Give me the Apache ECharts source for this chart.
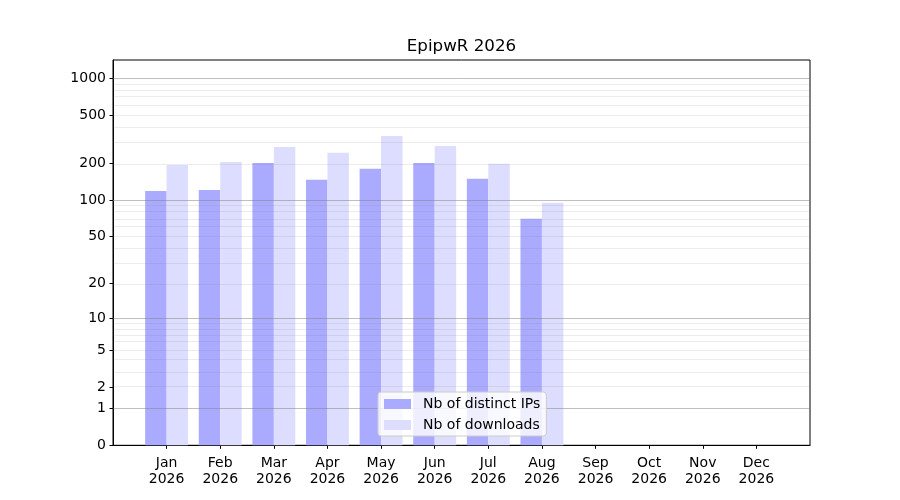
<!DOCTYPE html>
<html>
<head>
<meta charset="utf-8">
<script src="https://cdn.jsdelivr.net/npm/echarts@6/dist/echarts.min.js"></script>
<style>html,body{margin:0;padding:0;background:#fff}#c{width:900px;height:500px}</style>
</head>
<body>
<div id="c"></div>
<script>
const months = ['Jan','Feb','Mar','Apr','May','Jun','Jul','Aug','Sep','Oct','Nov','Dec'];
const year = '2026';
const distinctIPs = [119, 121, 202, 147, 181, 202, 150, 70, null, null, null, null];
const downloads = [195, 206, 274, 245, 337, 279, 199, 95, null, null, null, null];
const yTickValues = [0, 1, 2, 5, 10, 20, 50, 100, 200, 500, 1000];
const majorGrid = [1, 10, 100, 1000];
const minorGrid = [2,3,4,5,6,7,8,9,20,30,40,50,60,70,80,90,200,300,400,500,600,700,800,900];

const tf = v => v == null ? null : Math.log10(1 + v);
const cats = [''].concat(months.map(m => m + '\n' + year)).concat(['']);
const pad = arr => [null].concat(arr.map(tf)).concat([null]);
const FONT = 'DejaVu Sans';

const gridLines = majorGrid.map(v => ({yAxis: tf(v), lineStyle: {color: 'rgba(128,128,128,0.5)', width: 1, type: 'solid'}}))
  .concat(minorGrid.map(v => ({yAxis: tf(v), lineStyle: {color: 'rgba(128,128,128,0.15)', width: 1, type: 'solid'}})));

const chart = echarts.init(document.getElementById('c'), null, {renderer: 'canvas'});
chart.setOption({
  animation: false,
  textStyle: {fontFamily: FONT},
  title: {
    text: 'EpipwR ' + year,
    left: 461.5, top: 38, padding: 0, textAlign: 'center',
    textStyle: {fontFamily: FONT, fontSize: 16.7, fontWeight: 'normal', color: '#000'}
  },
  grid: {left: 113, right: 90, top: 60, bottom: 54.7, show: true, borderColor: '#000', borderWidth: 1, backgroundColor: 'transparent'},
  legend: {
    orient: 'vertical', left: 378, top: 392, z: 10,
    padding: [4, 6, 3, 6], itemGap: 5, itemWidth: 27, itemHeight: 10,
    backgroundColor: 'rgba(255,255,255,0.8)', borderColor: '#cccccc', borderWidth: 1, borderRadius: 3,
    icon: 'rect',
    textStyle: {fontFamily: FONT, fontSize: 14, color: '#000', lineHeight: 16, padding: [0, 0, 0, 7]},
    data: ['Nb of distinct IPs', 'Nb of downloads']
  },
  xAxis: {
    type: 'category', data: cats, boundaryGap: false,
    axisLine: {show: true, lineStyle: {color: '#000', width: 1}},
    axisTick: {show: true, length: 3.5, interval: (i) => i >= 1 && i <= 12, lineStyle: {color: '#000', width: 1}},
    axisLabel: {interval: 0, margin: 10, fontFamily: FONT, fontSize: 14, color: '#000', lineHeight: 16},
    splitLine: {show: false}
  },
  yAxis: {
    type: 'value', min: 0, max: 3.150,
    axisLine: {show: true, lineStyle: {color: '#000', width: 1}},
    axisTick: {show: true, length: 3.5, customValues: yTickValues.map(tf), lineStyle: {color: '#000', width: 1}},
    axisLabel: {customValues: yTickValues.map(tf), margin: 7, fontFamily: FONT, fontSize: 14, color: '#000',
      formatter: v => String(Math.round(Math.pow(10, v) - 1))},
    splitLine: {show: false}
  },
  series: [
    {name: 'Nb of distinct IPs', type: 'bar', data: pad(distinctIPs), barWidth: '40%', barGap: '0%',
      itemStyle: {color: '#aaaaff'}},
    {name: 'Nb of downloads', type: 'bar', data: pad(downloads), barWidth: '40%', barGap: '0%',
      itemStyle: {color: '#ddddff'},
      markLine: {silent: true, symbol: 'none', label: {show: false}, emphasis: {disabled: true}, animation: false, data: gridLines}}
  ]
});
</script>
</body>
</html>
